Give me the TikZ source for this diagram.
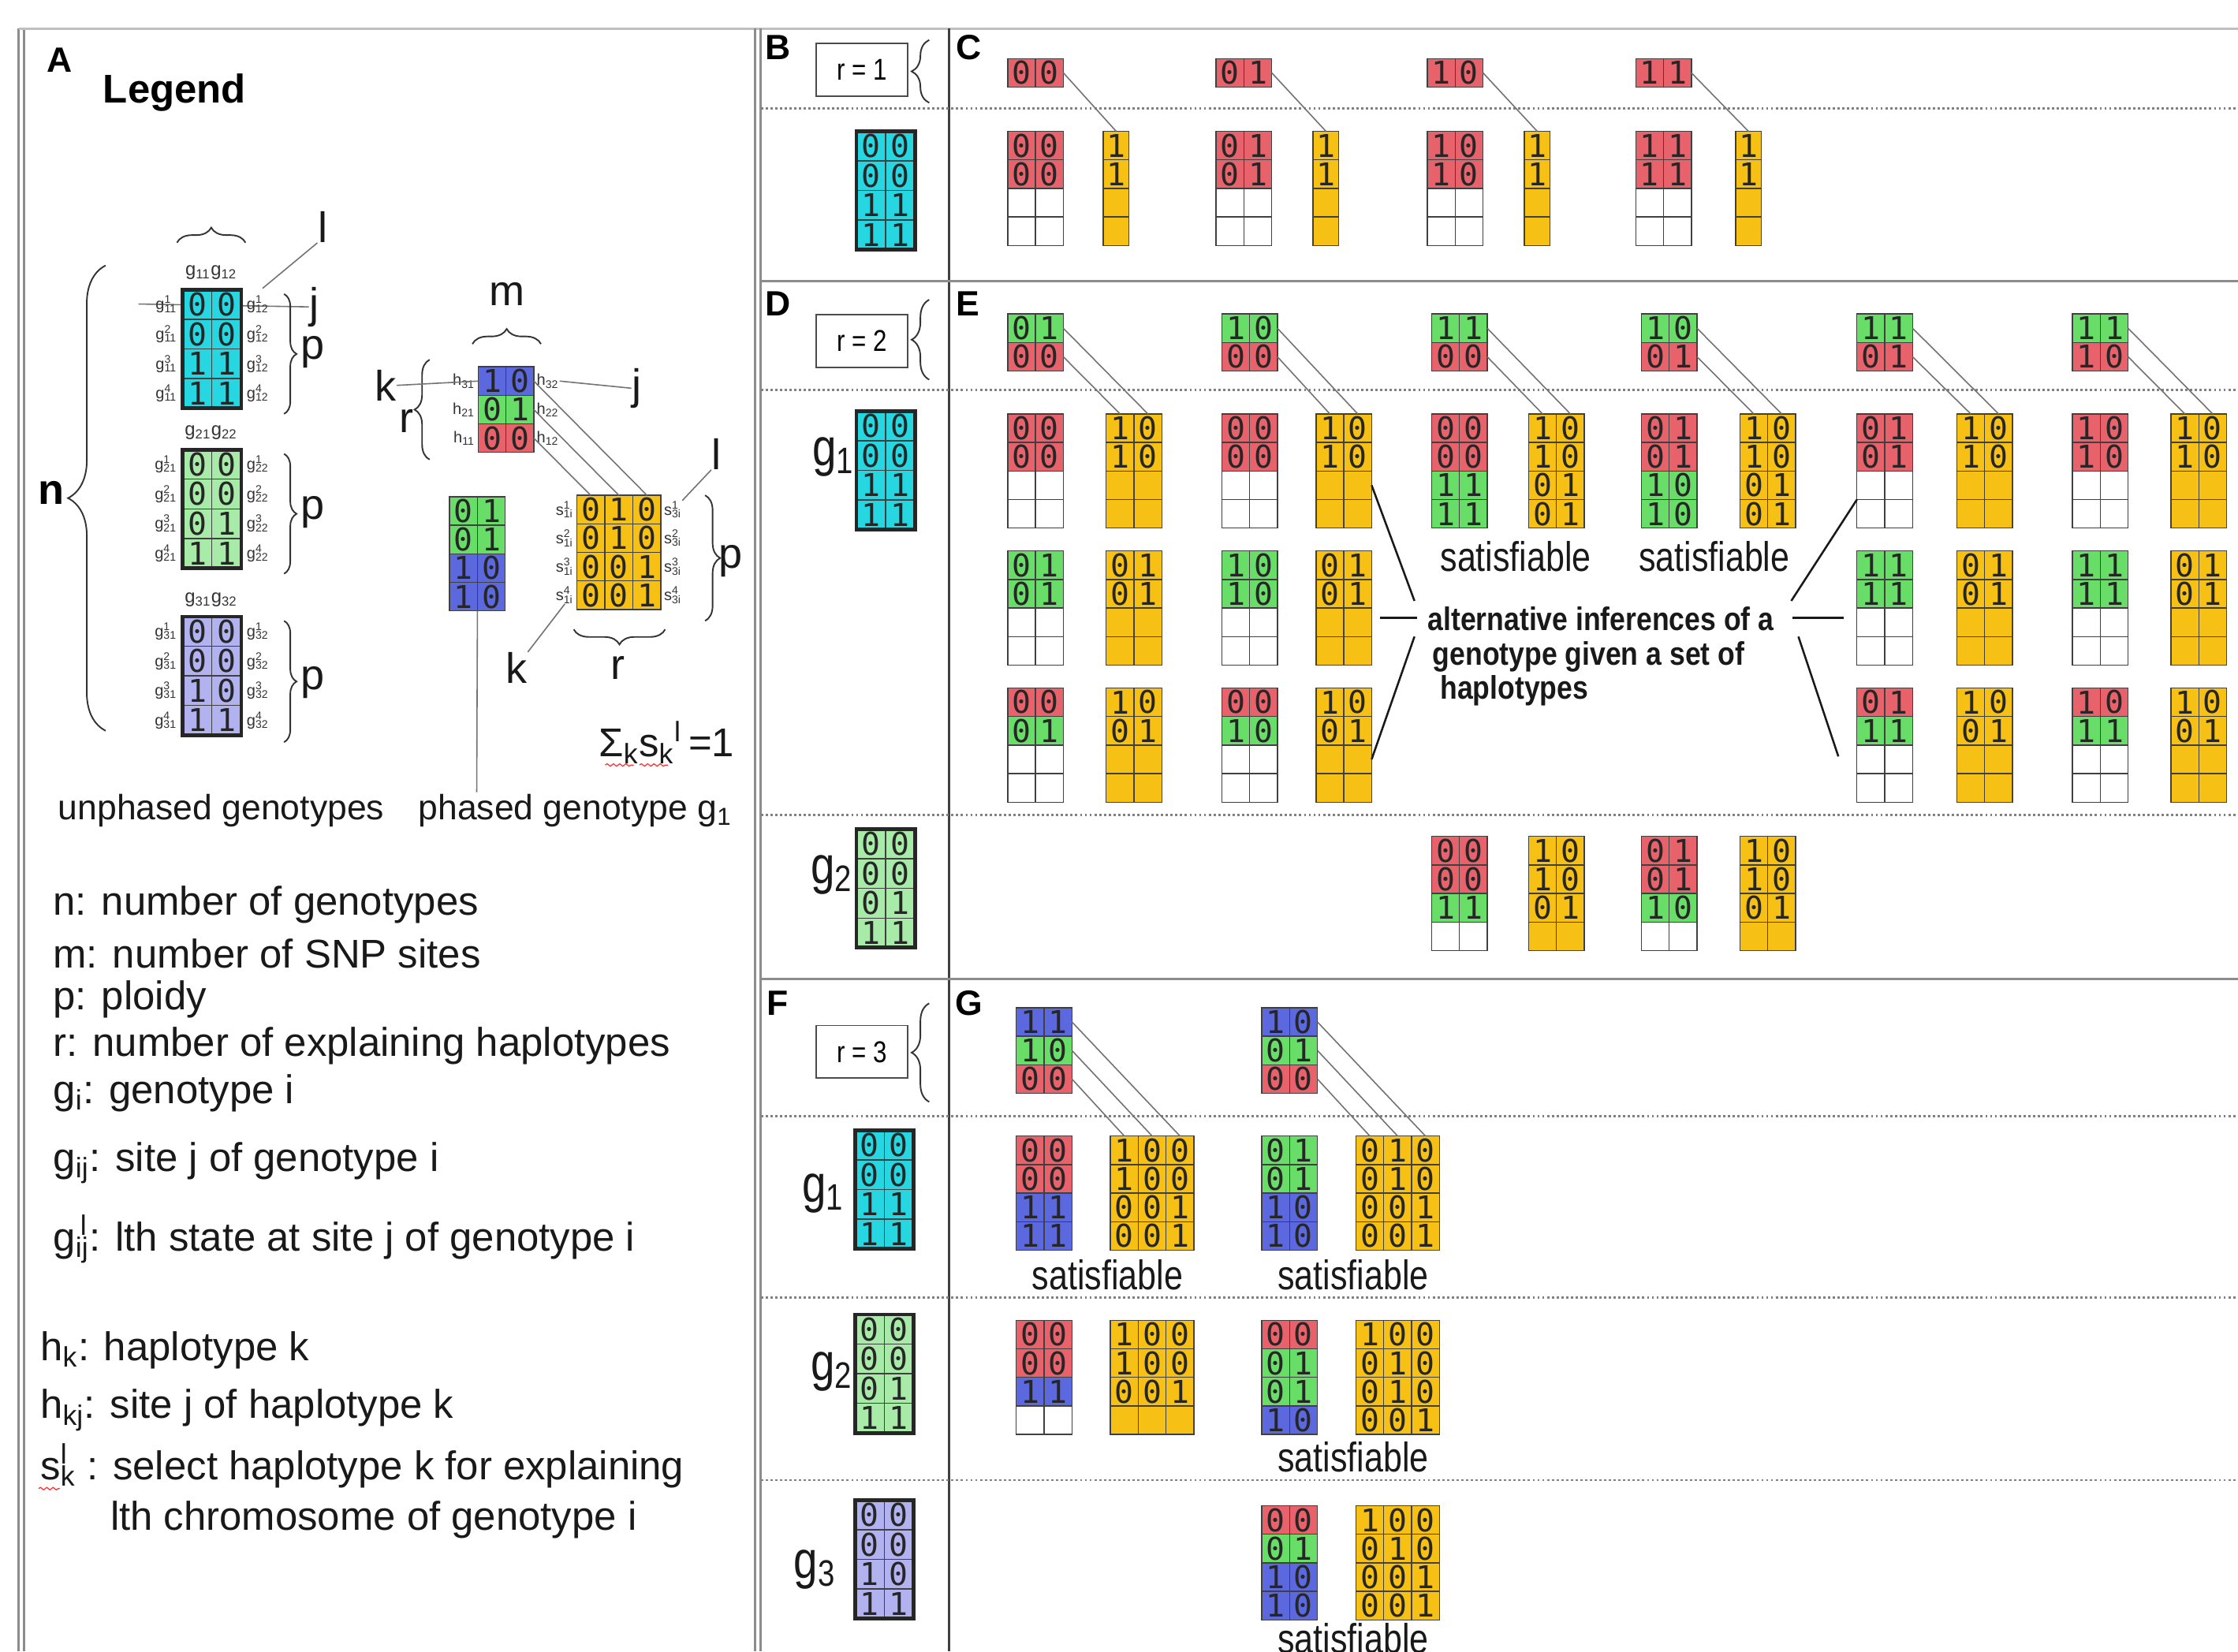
\documentclass[tikz,border=0pt]{standalone}
\usepackage{fontspec}
\setmainfont{Liberation Sans}
\newfontfamily\narrow[FakeStretch=0.82]{Liberation Sans}
\newfontfamily\narrowb[FakeStretch=0.86]{Liberation Sans}
\newfontfamily\dig{DejaVu Sans Mono}
\usetikzlibrary{decorations.pathreplacing,decorations.pathmorphing}
\definecolor{colc}{RGB}{38,214,224}
\definecolor{coll}{RGB}{168,234,168}
\definecolor{colv}{RGB}{178,178,240}
\definecolor{colr}{RGB}{232,98,108}
\definecolor{colg}{RGB}{104,222,104}
\definecolor{colb}{RGB}{92,104,222}
\definecolor{coly}{RGB}{247,192,20}
\definecolor{colw}{RGB}{255,255,255}
\def\cwd{19.5}\def\cht{20}
\newcount\cellc
\newcommand\crow[5]{\crowA{#1}{#2}{#3}{#4}#5\relax}
\def\crowA#1#2#3#4#5#6\relax{\global\cellc=0 \def\cpre{#1}\def\crr{#2}\def\cxx{#3}\def\cyy{#4}\def\ccol{col#5}\crowB#6\relax}
\def\crowB#1{\ifx#1\relax\else\global\advance\cellc by 1 \crowCell{#1}\expandafter\crowB\fi}
\def\crowCell#1{\edef\cnm{\cpre-\crr-\the\cellc}\node[cl,fill=\ccol] (\cnm) at ({\cxx+(\the\cellc-0.5)*\cwd},{\cyy+(\crr-0.5)*\cht}) {\if-#1\else#1\fi};}
\newcommand\mat[4]{\foreach \code [count=\ri] in {#4} {\edef\tmp{\noexpand\crow{#1}{\ri}{#2}{#3}{\code}}\tmp}}
\newcommand\gbox[3]{\draw[line width=1.5pt,black!85] (#1-1-1.north west) rectangle (#1-#2-#3.south east);}
\newcommand\gmat[4]{\begingroup\def\cwd{20.5}\def\cht{20.75}\mat{#1}{#2}{#3}{#4}\gbox{#1}{4}{2}\endgroup}
\begin{document}
\begin{tikzpicture}[x=0.02cm,y=-0.02cm,
  cl/.style={draw=black!75,line width=0.45pt,inner sep=0pt,outer sep=0pt,minimum width={\cwd*0.02cm},minimum height={\cht*0.02cm},font=\dig\fontsize{12.5}{12.5}\selectfont,text=black!85},
  conn/.style={draw=black!55,line width=0.5pt},
  ann/.style={draw=black!90,line width=0.8pt},
  brc/.style={decorate,decoration={brace,amplitude=#1},draw=black!80,line width=0.6pt},
  brc/.default=6,
  plab/.style={font=\bfseries\fontsize{14}{14}\selectfont,inner sep=0pt},
  leg/.style={font=\fontsize{16}{19}\selectfont,anchor=west,inner sep=0pt,text=black!90},
  tlab/.style={font=\fontsize{6.3}{6.5}\selectfont,text=black!80,inner sep=0pt},
  ltr/.style={font=\fontsize{17}{17}\selectfont,inner sep=0pt,text=black!90},
  rbox/.style={draw=black!70,line width=0.6pt,minimum width={64*0.02cm},minimum height={37*0.02cm},font=\narrow\fontsize{12}{12}\selectfont,inner sep=0pt},
  sat/.style={font=\narrow\fontsize{16.5}{16.5}\selectfont,inner sep=0pt,text=black!90},
  glab/.style={font=\narrow\fontsize{21}{21}\selectfont,anchor=east,inner sep=0pt,text=black!90},
  frm/.style={draw=black!45,line width=0.9pt},
  dotl/.style={draw=black!50,densely dotted,line width=0.9pt}]
\path[use as bounding box] (0,0) rectangle (1568,1157);
\clip (0,0) rectangle (1568,1157);
\fill[white] (0,0) rectangle (1568,1157);
% frame
\draw[frm] (13,20) -- (13,1157);
\draw[frm] (17,20) -- (17,1157);
\draw[frm,draw=black!25] (13,20) -- (1568,20);
\draw[frm] (529,20) -- (529,1157);
\draw[frm] (533,20) -- (533,1157);
\draw[draw=black!75,line width=0.9pt] (665,20) -- (665,1157);
\draw[frm] (533,197) -- (1568,197);
\draw[frm] (533,686) -- (1568,686);
\foreach \yy in {76,273,571,782,909,1037} \draw[dotl] (533,\yy) -- (1568,\yy);
% panel labels
\node[plab] (lA) at (42,42) {A};
\node[plab] (lB) at (545,33) {B};
\node[plab] (lC) at (679,33) {C};
\node[plab] (lD) at (545,213) {D};
\node[plab] (lE) at (678,213) {E};
\node[plab] (lF) at (545,703) {F};
\node[plab] (lG) at (679,703) {G};
\node[font=\bfseries\fontsize{16}{16}\selectfont,anchor=west,inner sep=0pt] (legend) at (72,65) {Legend};

% ---------- Legend: unphased genotypes
\coordinate (jl) at (97,213);
\node[ltr] (j1) at (220,215) {j};
\draw[conn] (jl) -- (j1.west);
\gmat{Lg1}{128}{203}{c00,c00,c11,c11}
\gmat{Lg2}{128}{315}{l00,l00,l01,l11}
\gmat{Lg3}{128}{432}{v00,v00,v10,v11}
\foreach \m/\yt in {1/203,2/315,3/432} {
  \node[tlab,font=\fontsize{7.5}{8}\selectfont] (gh\m) at (148,\yt-12) {g\textsubscript{\m1}g\textsubscript{\m2}};
  \foreach \r in {1,...,4} {
    \node[tlab,anchor=east] (gla\m\r) at ([xshift=-2pt]Lg\m-\r-1.west) {g\rlap{\textsuperscript{\r}}\textsubscript{\m1}};
    \node[tlab,anchor=west] (glb\m\r) at ([xshift=2pt]Lg\m-\r-2.east) {g\rlap{\textsuperscript{\r}}\textsubscript{\m2}};
  }
}
\draw[brc=6] (124,170) -- (172,170);
\draw[brc=5] (199,206) -- (199,290);
\draw[brc=5] (199,318) -- (199,402);
\draw[brc=5] (199,435) -- (199,520);
\node[ltr] (p1) at (219,247) {p};
\node[ltr] (p2) at (219,359) {p};
\node[ltr] (p3) at (219,478) {p};
\draw[brc=15] (74,512) -- (74,186);
\node[font=\bfseries\fontsize{17}{17}\selectfont,inner sep=0pt] (nn) at (36,345) {n};
\node[ltr] (l1) at (226,159) {l};
\coordinate (l1s) at (184,202);
\draw[conn] (l1s) -- (l1.south west);
\node[font=\fontsize{14}{14}\selectfont,inner sep=0pt,text=black!90] (unph) at (155,568) {unphased genotypes};

% ---------- Legend: haplotypes and s
\mat{LH}{335}{257}{b10,g01,r00}
\foreach \r/\k in {1/3,2/2,3/1} {
  \node[tlab,anchor=east] (hla\k) at ([xshift=-1pt]LH-\r-1.west) {h\textsubscript{\k1}};
  \node[tlab,anchor=west] (hlb\k) at ([xshift=1pt]LH-\r-2.east) {h\textsubscript{\k2}};
}
\draw[brc=6] (331,241) -- (379,241);
\node[ltr] (mm) at (355,206) {m};
\draw[brc=6] (301,322) -- (301,252);
\node[ltr] (k1) at (270,270) {k};
\node[ltr] (r1) at (285,295) {r};
\draw[conn] (k1.east) -- (LH-1-1.west);
\node[ltr] (j2) at (446,272) {j};
\draw[conn] (hlb3.east) -- (j2.west);
\mat{LP}{315}{348}{g01,g01,b10,b10}
\begingroup\def\cwd{19.7}\mat{LS}{404}{347}{y010,y010,y001,y001}\endgroup
\foreach \r in {1,...,4} {
  \node[tlab,anchor=east] (sla\r) at ([xshift=-1pt]LS-\r-1.west) {s\rlap{\textsuperscript{\r}}\textsubscript{1i}};
  \node[tlab,anchor=west] (slb\r) at ([xshift=1pt]LS-\r-3.east) {s\rlap{\textsuperscript{\r}}\textsubscript{3i}};
}
\draw[conn] (LH-1-2.east) -- (LS-1-3.north);
\draw[conn] (LH-2-2.east) -- (LS-1-2.north);
\draw[conn] (LH-3-2.east) -- (LS-1-1.north);
\draw[brc=6] (494,347) -- (494,435);
\node[ltr] (p4) at (512,393) {p};
\node[ltr] (l2) at (502,318) {l};
\draw[conn] (slb1.north east) -- (l2.south west);
\draw[brc=6] (466,441) -- (402,441);
\node[ltr] (r2) at (433,468) {r};
\node[ltr] (k2) at (362,468) {k};
\draw[conn] (k2.north east) -- (sla4.south);
\node[font=\fontsize{14}{14}\selectfont,inner sep=0pt,text=black!90] (phased) at (403,568) {phased genotype g\textsubscript{1}};
\coordinate (phb) at (334,555);
\draw[conn] (LP-4-1.south east) -- (phb);
\node[font=\fontsize{16}{16}\selectfont,inner sep=0pt,text=black!90] (sig) at (467,520) {Σ\textsubscript{k}s\textsubscript{k}\textsuperscript{l}\,=1};
\draw[red!80,line width=0.4pt,decorate,decoration={snake,amplitude=0.5pt,segment length=2.5pt}] (424,536) -- (444,536);
\draw[red!80,line width=0.4pt,decorate,decoration={snake,amplitude=0.5pt,segment length=2.5pt}] (448,536) -- (468,536);

% ---------- Legend text
\node[leg] (t1) at (37,634) {n: number of genotypes};
\node[leg] (t2) at (37,668) {m: number of SNP sites};
\node[leg] (t3) at (37,700) {p: ploidy};
\node[leg] (t4) at (37,733) {r: number of explaining haplotypes};
\node[leg] (t5) at (37,766) {g\textsubscript{i}: genotype i};
\node[leg] (t6) at (37,815) {g\textsubscript{ij}: site j of genotype i};
\node[leg] (t7) at (37,868) {g\rlap{\textsuperscript{\,l}}\textsubscript{ij}: lth state at site j of genotype i};
\node[leg] (t8) at (28,946) {h\textsubscript{k}: haplotype k};
\node[leg] (t9) at (28,988) {h\textsubscript{kj}: site j of haplotype k};
\node[leg] (t10) at (28,1027) {s\rlap{\textsuperscript{l}}\textsubscript{k} : select haplotype k for explaining};
\node[leg] (t11) at (77,1065) {lth chromosome of genotype i};
\draw[red!80,line width=0.4pt,decorate,decoration={snake,amplitude=0.5pt,segment length=2.5pt}] (27,1043) -- (42,1043);

% ---------- B / C  (r = 1)
\node[rbox] (rb1) at (604,49) {r = 1};
\draw[brc=7] (651,72) -- (651,28);
\gmat{Bg}{600}{92}{c00,c00,c11,c11}
\foreach \xl/\xy/\vv [count=\i] in {706/773/00,852/920/01,1000/1068/10,1146/1216/11} {
  \mat{Ct\i}{\xl}{41}{r\vv}
  \mat{Cm\i}{\xl}{92}{r\vv,r\vv,w--,w--}
  \begingroup\def\cwd{18}\mat{Cy\i}{\xy}{92}{y1,y1,y-,y-}\endgroup
  \draw[conn] (Ct\i-1-2.east) -- (Cy\i-1-1.north);
}

% ---------- D / E  (r = 2)
\node[rbox] (rb2) at (604,239) {r = 2};
\draw[brc=7] (651,266) -- (651,210);
\node[glab] (gD1) at (599,320) {g\textsubscript{1}};
\gmat{Dg1}{600}{288}{c00,c00,c11,c11}
\node[glab] (gD2) at (598,613) {g\textsubscript{2}};
\gmat{Dg2}{600}{581}{l00,l00,l01,l11}
\foreach \xl/\ga/\gb [count=\i] in {706/01/00,856/10/00,1003/11/00,1150/10/01,1301/11/01,1452/11/10} {
  \mat{Et\i}{\xl}{220}{g\ga,r\gb}
}
\mat{Ea1}{706}{290}{r00,r00,w--,w--}   \mat{Ya1}{775}{290}{y10,y10,y--,y--}
\mat{Ea2}{856}{290}{r00,r00,w--,w--}   \mat{Ya2}{922}{290}{y10,y10,y--,y--}
\mat{Ea3}{1003}{290}{r00,r00,g11,g11}  \mat{Ya3}{1071}{290}{y10,y10,y01,y01}
\mat{Ea4}{1150}{290}{r01,r01,g10,g10}  \mat{Ya4}{1219}{290}{y10,y10,y01,y01}
\mat{Ea5}{1301}{290}{r01,r01,w--,w--}  \mat{Ya5}{1371}{290}{y10,y10,y--,y--}
\mat{Ea6}{1452}{290}{r10,r10,w--,w--}  \mat{Ya6}{1521}{290}{y10,y10,y--,y--}
\foreach \i in {1,...,6} {
  \draw[conn] (Et\i-1-2.east) -- (Ya\i-1-2.north);
  \draw[conn] (Et\i-2-2.east) -- (Ya\i-1-1.north);
}
\mat{Eb1}{706}{386}{g01,g01,w--,w--}   \mat{Yb1}{775}{386}{y01,y01,y--,y--}
\mat{Eb2}{856}{386}{g10,g10,w--,w--}   \mat{Yb2}{922}{386}{y01,y01,y--,y--}
\mat{Eb5}{1301}{386}{g11,g11,w--,w--}  \mat{Yb5}{1371}{386}{y01,y01,y--,y--}
\mat{Eb6}{1452}{386}{g11,g11,w--,w--}  \mat{Yb6}{1521}{386}{y01,y01,y--,y--}
\mat{Ec1}{706}{482}{r00,g01,w--,w--}   \mat{Yc1}{775}{482}{y10,y01,y--,y--}
\mat{Ec2}{856}{482}{r00,g10,w--,w--}   \mat{Yc2}{922}{482}{y10,y01,y--,y--}
\mat{Ec5}{1301}{482}{r01,g11,w--,w--}  \mat{Yc5}{1371}{482}{y10,y01,y--,y--}
\mat{Ec6}{1452}{482}{r10,g11,w--,w--}  \mat{Yc6}{1521}{482}{y10,y01,y--,y--}
\mat{Ed3}{1003}{586}{r00,r00,g11,w--}  \mat{Yd3}{1071}{586}{y10,y10,y01,y--}
\mat{Ed4}{1150}{586}{r01,r01,g10,w--}  \mat{Yd4}{1219}{586}{y10,y10,y01,y--}
\node[sat] (sat1) at (1062,390) {satisfiable};
\node[sat] (sat2) at (1201,390) {satisfiable};
\node[font=\narrowb\bfseries\fontsize{13}{13.6}\selectfont,align=left,anchor=north west,inner sep=0pt,text=black!90] (alt) at (1000,425) {alternative inferences of a\\\hspace{2pt}genotype given a set of\\\hspace{5pt}haplotypes};
\coordinate (aLi1) at (991,421);
\coordinate (aLi2) at (993,433);
\coordinate (aLo2) at (967,433);
\coordinate (aLi3) at (991,446);
\coordinate (aRi1) at (1255,421);
\coordinate (aRi2) at (1256,433);
\coordinate (aRo2) at (1292,433);
\coordinate (aRi3) at (1260,446);
\coordinate (aRo3) at (1288,530);
\draw[ann] (Ya2-3-2.east) -- (aLi1);
\draw[ann] (aLo2) -- (aLi2);
\draw[ann] (aLi3) -- (Yc2-3-2.east);
\draw[ann] (aRi1) -- (Ea5-4-1.north west);
\draw[ann] (aRi2) -- (aRo2);
\draw[ann] (aRi3) -- (aRo3);

% ---------- F / G  (r = 3)
\node[rbox] (rb3) at (604,737) {r = 3};
\draw[brc=7] (651,772) -- (651,703);
\node[glab] (gF1) at (592,836) {g\textsubscript{1}};
\gmat{Fg1}{599}{792}{c00,c00,c11,c11}
\node[glab] (gF2) at (598,961) {g\textsubscript{2}};
\gmat{Fg2}{599}{921}{l00,l00,l01,l11}
\node[glab] (gF3) at (586,1100) {g\textsubscript{3}};
\gmat{Fg3}{599}{1051}{v00,v00,v10,v11}
\mat{Gt1}{712}{706}{b11,g10,r00}
\mat{Gt2}{884}{706}{b10,g01,r00}
\mat{Ga1}{712}{796}{r00,r00,b11,b11}  \mat{Za1}{778}{796}{y100,y100,y001,y001}
\mat{Ga2}{884}{796}{g01,g01,b10,b10}  \mat{Za2}{950}{796}{y010,y010,y001,y001}
\foreach \i in {1,2} {
  \draw[conn] (Gt\i-1-2.east) -- (Za\i-1-3.north);
  \draw[conn] (Gt\i-2-2.east) -- (Za\i-1-2.north);
  \draw[conn] (Gt\i-3-2.east) -- (Za\i-1-1.north);
}
\mat{Gb1}{712}{925}{r00,r00,b11,w--}  \mat{Zb1}{778}{925}{y100,y100,y001,y---}
\mat{Gb2}{884}{925}{r00,g01,g01,b10}  \mat{Zb2}{950}{925}{y100,y010,y010,y001}
\mat{Gc2}{884}{1055}{r00,g01,b10,b10} \mat{Zc2}{950}{1055}{y100,y010,y001,y001}
\node[sat] (sat3) at (776,893) {satisfiable};
\node[sat] (sat4) at (948,893) {satisfiable};
\node[sat] (sat5) at (948,1021) {satisfiable};
\node[sat] (sat6) at (948,1148) {satisfiable};
\end{tikzpicture}
\end{document}
